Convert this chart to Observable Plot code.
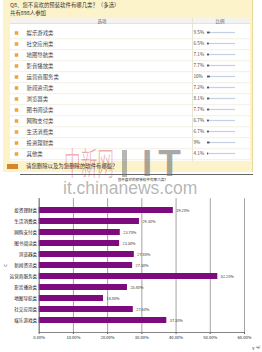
<!DOCTYPE html>
<html><head><meta charset="utf-8">
<script src="https://cdn.jsdelivr.net/npm/d3@7"></script>
<script src="https://cdn.jsdelivr.net/npm/@observablehq/plot@0.6"></script>
<style>
body{margin:0;width:262px;height:352px;overflow:hidden;background:#fff;position:relative;font-family:"Noto Sans CJK SC",sans-serif}
.abs{position:absolute;white-space:nowrap}
#panel{left:3px;top:0;width:250px;height:172px;background:#fcf3ca;border-right:1px solid #eadb9c;box-sizing:border-box}
#title{left:10px;top:1px;font-size:5.4px;line-height:8px;color:#333}
#count{left:10px;top:9px;font-size:5.4px;line-height:8px;color:#333}
#head{left:10px;top:17.5px;width:240px;height:6.5px;background:#f4f3ee;border-bottom:1px solid #e6e2d4;box-sizing:border-box}
#head span{position:absolute;top:0;font-size:4.5px;line-height:6px;color:#666;transform:translateX(-50%)}
#divider{left:192px;top:17.5px;width:0;height:143px;border-left:1px solid #e8e4d6}
#table{left:10px;top:24px}
#fbadge{left:7px;top:164px;width:11px;height:5px;background:#d2862e}
#foot{left:26px;top:163px;font-size:5.4px;line-height:7px;color:#333}
#hline{left:20px;top:173.5px;width:233px;height:1.5px;background:#666}
#chart{left:0;top:176px}
#wm1{left:64px;top:142px;font-size:32px;line-height:38px;color:rgba(215,70,70,0.45);transform:scale(0.52,1);transform-origin:left top;font-weight:300}
#wm2{left:122px;top:150px;width:5px;height:27px;background:rgba(110,110,110,0.5)}
#wm3{left:142px;top:145px;font-family:"Liberation Sans",sans-serif;font-weight:bold;font-size:37px;line-height:37px;letter-spacing:6px;color:rgba(110,110,110,0.6)}
#wm4{left:63px;top:180px;font-family:"Liberation Sans",sans-serif;font-size:17.5px;line-height:17.5px;color:rgba(120,120,120,0.55)}
#ret{left:256px;top:343px;font-size:6px;line-height:7px;color:#999}
</style></head>
<body>
<script>
// top survey table
const options = ["娱乐游戏类","社交应用类","地图导航类","影音播放类","运营商服务类","新闻资讯类","浏览器类","图书阅读类","网购支付类","生活消费类","投资理财类","其他类"];
const shares = [9.5, 6.5, 7.1, 7.7, 10, 7.2, 8.1, 7.7, 6.7, 6.7, 9, 4.1];
// bottom bar chart
const chartCats = ["投资理财类","生活消费类","网购支付类","图书阅读类","浏览器类","新闻资讯类","运营商服务类","影音播放类","地图导航类","社交应用类","娱乐游戏类"];
const chartVals = [39.2, 29.3, 23.7, 23.5, 27.8, 27.3, 52.2, 25.8, 18.8, 27.5, 37.3];
const xTicks = [0, 10, 20, 30, 40, 50, 60];
const texts = {
  title: "Q8、您不喜欢的预装软件有哪几类？（多选）",
  count: "共有898人参加",
  colOption: "选项",
  colRatio: "比例",
  foot: "请您删除以及为您删除的软件有哪些？",
  chartTitle: "您不喜欢的预装软件有哪几类?"
};

function div(id, text, parent=document.body){
  const d = document.createElement("div");
  d.className = "abs"; d.id = id;
  if (text != null) d.textContent = text;
  parent.appendChild(d); return d;
}

div("panel");
div("title", texts.title);
div("count", texts.count);
const head = div("head");
const s1 = document.createElement("span"); s1.style.left = "92px"; s1.textContent = texts.colOption; head.appendChild(s1);
const s2 = document.createElement("span"); s2.style.left = "210px"; s2.textContent = texts.colRatio; head.appendChild(s2);

const rows = options.map((name, i) => ({name, share: shares[i]}));
const table = Plot.plot({
  width: 240, height: 137, margin: 0,
  x: {domain: [0, 100], range: [197, 225], axis: null},
  y: {domain: options, padding: 0, axis: null},
  style: {fontFamily: "'Noto Sans CJK SC',sans-serif", fontSize: "5.4px", color: "#333", background: "#fff"},
  marks: [
    Plot.ruleY(options, {y: d => d, dy: 5.7, stroke: "#ece8d8", strokeWidth: 0.7}),
    Plot.dot(rows, {y: "name", frameAnchor: "left", dx: 6, symbol: "square", r: 2, fill: "#eea63c"}),
    Plot.text(rows, {y: "name", frameAnchor: "left", dx: 16, text: "name", textAnchor: "start", fill: "#444"}),
    Plot.text(rows, {y: "name", x: 0, text: d => d.share + "%", textAnchor: "start", dx: -14, fontSize: 4.6, fill: "#444"}),
    Plot.barX(rows, {y: "name", x1: 0, x2: 100, fill: "#c3d0e6", insetTop: 4.9, insetBottom: 4.9}),
    Plot.barX(rows, {y: "name", x: "share", fill: "#555", insetTop: 4.6, insetBottom: 4.6})
  ]
});
const tdiv = div("table"); tdiv.appendChild(table);
div("divider");
div("fbadge");
div("foot", texts.foot);
div("hline");

const data = chartCats.map((c, i) => ({c, v: chartVals[i]}));
const chart = Plot.plot({
  width: 262, height: 176,
  marginLeft: 38.7, marginRight: 18, marginTop: 22.2, marginBottom: 20,
  x: {domain: [0, 60], axis: null},
  y: {domain: chartCats, padding: 0.47, axis: null},
  style: {fontFamily: "'Noto Sans CJK SC',sans-serif", color: "#222", background: "transparent"},
  marks: [
    Plot.gridX(xTicks, {stroke: "#8a8a8a", strokeOpacity: 1, strokeWidth: 0.8}),
    Plot.barX(data, {x: "v", y: "c", fill: "#7d0b7d"}),
    Plot.text(data, {x: "v", y: "c", text: d => d.v.toFixed(2) + "%", textAnchor: "start", dx: 3, fontSize: 3.8, fill: "#333"}),
    Plot.ruleX([0], {stroke: "#666", strokeWidth: 0.8}),
    Plot.frame({anchor: "bottom", stroke: "#666", strokeWidth: 0.8}),
    Plot.axisX({ticks: xTicks, tickFormat: d => d.toFixed(2) + "%", tickSize: 2, tickPadding: 2, fontSize: 4.1, stroke: "#666"}),
    Plot.axisY({tickSize: 0, tickPadding: 2, fontSize: 4.6}),
    Plot.text([texts.chartTitle], {frameAnchor: "top", dy: -20, fontSize: 3.6, fill: "#333"})
  ]
});
const cdiv = div("chart"); cdiv.appendChild(chart);

div("wm1", "中新网");
div("wm2");
div("wm3", "IT");
div("wm4", "it.chinanews.com");
div("ret", "↵");
</script>
</body></html>
